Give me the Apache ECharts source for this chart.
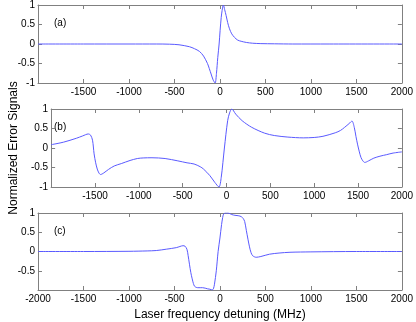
<!DOCTYPE html>
<html>
<head>
<meta charset="utf-8">
<script src="https://cdn.jsdelivr.net/npm/echarts@6/dist/echarts.min.js"></script>
<style>
  html, body { margin: 0; padding: 0; background: #fff; }
  #main { width: 416px; height: 322px; }
</style>
</head>
<body>
<div id="main"></div>
<script>
// values (MHz, normalized signal)
var freqA = [-2000, -1500, -1000, -700, -555, -450, -335, -280, -225, -180, -137, -117, -97, -75, -53, -38, -24, -9, 2, 14, 24, 38, 52, 68, 85, 105, 130, 160, 195, 233, 290, 360, 450, 600, 800, 1200, 2000];
var sigA = [0, 0, 0, 0, -0.005, -0.02, -0.07, -0.12, -0.19, -0.31, -0.5, -0.63, -0.77, -0.92, -1.0, -0.75, -0.35, 0, 0.35, 0.68, 0.86, 1.0, 0.88, 0.73, 0.55, 0.39, 0.26, 0.17, 0.1, 0.07, 0.04, 0.02, 0.01, 0.005, 0, 0, 0];

var freqB = [-2000, -1858, -1712, -1640, -1576, -1550, -1528, -1510, -1492, -1474, -1455, -1437, -1400, -1346, -1280, -1200, -1100, -1017, -950, -850, -700, -555, -450, -370, -300, -262, -189, -134, -86, -60, -24, 13, 35, 60, 105, 178, 288, 435, 545, 700, 875, 1000, 1100, 1240, 1300, 1347, 1400, 1431, 1457, 1476, 1494, 1515, 1533, 1555, 1577, 1620, 1680, 1750, 1827, 1900, 2000];
var sigB = [0.085, 0.15, 0.25, 0.31, 0.36, 0.33, 0.2, -0.15, -0.38, -0.54, -0.64, -0.68, -0.64, -0.55, -0.46, -0.4, -0.32, -0.27, -0.255, -0.25, -0.27, -0.33, -0.38, -0.41, -0.48, -0.54, -0.71, -0.88, -1.0, -0.75, 0, 0.7, 0.9, 1.0, 0.87, 0.7, 0.53, 0.38, 0.32, 0.28, 0.26, 0.27, 0.3, 0.39, 0.45, 0.53, 0.63, 0.69, 0.53, 0.3, 0.1, -0.1, -0.24, -0.33, -0.37, -0.33, -0.26, -0.21, -0.17, -0.13, -0.1];

var freqC = [-2000, -1500, -1000, -800, -700, -590, -480, -440, -407, -385, -363, -350, -335, -320, -305, -292, -280, -262, -244, -190, -135, -110, -85, -72, -60, -40, -20, 0, 18, 30, 40, 60, 88, 130, 165, 200, 220, 238, 255, 272, 290, 308, 325, 342, 360, 398, 450, 545, 650, 770, 1000, 1500, 2000];
var sigC = [0, 0, 0.005, 0.015, 0.025, 0.06, 0.1, 0.13, 0.15, 0.14, 0.06, -0.1, -0.33, -0.55, -0.71, -0.83, -0.9, -0.93, -0.94, -0.94, -0.97, -0.98, -1.0, -0.97, -0.85, -0.5, 0, 0.35, 0.7, 0.88, 0.97, 1.0, 1.0, 0.96, 0.94, 0.93, 0.92, 0.9, 0.86, 0.78, 0.55, 0.32, 0.12, -0.03, -0.11, -0.15, -0.13, -0.07, -0.04, -0.02, -0.01, 0, 0];

var panelLabels = ['(a)', '(b)', '(c)'];
var xTitle = 'Laser frequency detuning (MHz)';
var yTitle = 'Normalized Error Signals';

var FONT = 'Liberation Sans, Arial, Helvetica, sans-serif';
var FRAME = '#808080';
var LINE = '#5a5aff';

function pairs(xs, ys) {
  return xs.map(function (x, i) { return [x, ys[i]]; });
}

function plain(v) { return String(v); }

var grids = [
  { left: 38, right: 14, top: 5, height: 78 },
  { left: 38, right: 14, top: 109, height: 78 },
  { left: 38, right: 14, top: 213, height: 78 }
];

var frameLine = { onZero: false, lineStyle: { color: FRAME, width: 1 } };
var ticks = { inside: true, length: 4, lineStyle: { color: FRAME } };

var xAxes = [], yAxes = [];
grids.forEach(function (g, i) {
  // bottom axis with labels
  xAxes.push({
    type: 'value', gridIndex: i, position: 'bottom', min: -2000, max: 2000, interval: 500,
    axisLine: frameLine, axisTick: ticks,
    axisLabel: { color: '#000', fontSize: 10, fontFamily: FONT, margin: 4, showMinLabel: i === 2, formatter: plain },
    splitLine: { show: false },
    name: i === 2 ? xTitle : '', nameLocation: 'middle', nameGap: 19,
    nameTextStyle: { color: '#000', fontSize: 12, fontFamily: FONT }
  });
  // top mirror
  xAxes.push({
    type: 'value', gridIndex: i, position: 'top', min: -2000, max: 2000, interval: 500,
    axisLine: frameLine, axisTick: ticks,
    axisLabel: { show: false }, splitLine: { show: false }
  });
  yAxes.push({
    type: 'value', gridIndex: i, position: 'left', min: -1, max: 1, interval: 0.5,
    axisLine: frameLine, axisTick: ticks,
    axisLabel: { color: '#000', fontSize: 10, fontFamily: FONT, margin: 3, showMinLabel: i !== 2, formatter: plain },
    splitLine: { show: false },
    name: i === 1 ? yTitle : '', nameLocation: 'middle', nameGap: 27,
    nameTextStyle: { color: '#000', fontSize: 12, fontFamily: FONT }
  });
  yAxes.push({
    type: 'value', gridIndex: i, position: 'right', min: -1, max: 1, interval: 0.5,
    axisLine: frameLine, axisTick: ticks,
    axisLabel: { show: false }, splitLine: { show: false }
  });
});

var datasets = [pairs(freqA, sigA), pairs(freqB, sigB), pairs(freqC, sigC)];

var option = {
  animation: false,
  backgroundColor: '#fff',
  grid: grids,
  xAxis: xAxes,
  yAxis: yAxes,
  graphic: panelLabels.map(function (t, i) {
    return {
      type: 'text', left: 54, top: grids[i].top + 13,
      style: { text: t, fill: '#000', font: '10px ' + FONT }
    };
  }),
  series: datasets.map(function (d, i) {
    return {
      type: 'line', xAxisIndex: i * 2, yAxisIndex: i * 2, data: d,
      showSymbol: false, smooth: 0.3,
      lineStyle: { color: LINE, width: 1 }
    };
  })
};

var chart = echarts.init(document.getElementById('main'));
chart.setOption(option);
</script>
</body>
</html>
